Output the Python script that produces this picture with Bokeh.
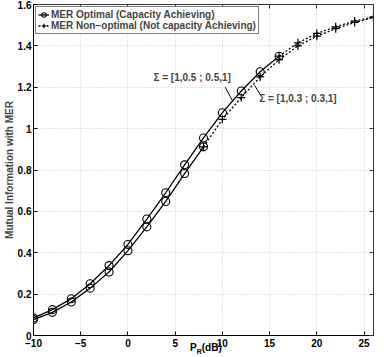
from bokeh.plotting import figure
from bokeh.layouts import column
from bokeh.models import (Range1d, FixedTicker, LinearAxis, Legend, LegendItem,
                          Label, Div, CustomJSTickFormatter)
from bokeh.embed import file_html
from bokeh.resources import INLINE

# ---------------- data ----------------
x_opt_a = [-10, -8, -6, -4, -2, 0, 2, 4, 6, 8, 10, 12, 14, 16]
y_opt_a = [0.085, 0.125, 0.178, 0.250, 0.338, 0.440, 0.563, 0.690, 0.825, 0.955,
           1.077, 1.182, 1.275, 1.350]   # Sigma = [1,0.5;0.5,1], optimal

x_opt_b = [-10, -8, -6, -4, -2, 0, 2, 4, 6, 8]
y_opt_b = [0.077, 0.112, 0.162, 0.229, 0.307, 0.410, 0.525, 0.648, 0.783, 0.912]  # Sigma 0.3 optimal

x_non_a = [16, 18, 20, 22, 24, 26]
y_non_a = [1.350, 1.415, 1.460, 1.492, 1.520, 1.540]   # Sigma 0.5 non-optimal

x_non_b = [8, 10, 12, 14, 16, 18, 20, 22, 24, 26]
y_non_b = [0.912, 1.045, 1.150, 1.250, 1.333, 1.400, 1.447, 1.483, 1.513, 1.537]  # Sigma 0.3 non-optimal

x_ticks = [-10, -5, 0, 5, 10, 15, 20, 25]
x_tick_labels = ["\u221210", "\u22125", "0", "5", "10", "15", "20", "25"]
y_ticks = [0, 0.2, 0.4, 0.6, 0.8, 1, 1.2, 1.4, 1.6]
y_tick_labels = ["0", "0.2", "0.4", "0.6", "0.8", "1", "1.2", "1.4", "1.6"]

legend_labels = ["MER Optimal (Capacity Achieving)",
                 "MER Non\u2212optimal (Not capacity Achieving)"]
sigma_texts = ["\u03a3 = [1,0.5 ; 0.5,1]", "\u03a3 = [1,0.3 ; 0.3,1]"]
x_label_main, x_label_sub, x_label_tail = "P", "R", "(dB)"
y_label = "Mutual Information with MER"

# annotation anchor points (data coordinates)
sig1_pos = (2.7, 1.245)
sig2_pos = (13.9, 1.148)
ptr1 = (10.3, 1.200, 11.1, 1.132)
ptr2 = (13.4, 1.210, 14.0, 1.165)

FONT = "Liberation Sans"

p = figure(width=378, height=349, output_backend="svg", toolbar_location=None,
           x_range=Range1d(-10, 26), y_range=Range1d(0, 1.6),
           min_border_top=4, min_border_right=5, min_border_bottom=0,
           min_border_left=10)
p.background_fill_color = "white"
p.border_fill_color = "white"
p.outline_line_color = "#333333"

for ax in (p.xaxis[0], p.yaxis[0]):
    ax.major_tick_in = 4
    ax.major_tick_out = 0
    ax.minor_tick_line_color = None
    ax.axis_line_color = "black"
    ax.major_tick_line_color = "black"
    ax.major_label_text_font = FONT
    ax.major_label_text_font_style = "bold"
    ax.major_label_text_font_size = "10px"
    ax.major_label_text_color = "black"

p.xaxis[0].ticker = FixedTicker(ticks=x_ticks)
p.xaxis[0].major_label_overrides = dict(zip(x_ticks, x_tick_labels))
p.xaxis[0].major_label_standoff = 3
p.yaxis[0].ticker = FixedTicker(ticks=y_ticks)
p.yaxis[0].major_label_overrides = dict(zip(y_ticks, y_tick_labels))
p.yaxis[0].major_label_standoff = 2
p.yaxis[0].axis_label = y_label
p.yaxis[0].axis_label_text_font = FONT
p.yaxis[0].axis_label_text_font_style = "bold"
p.yaxis[0].axis_label_text_font_size = "10px"
p.yaxis[0].axis_label_standoff = 0

# mirror axes (box with inward ticks, no labels)
for loc, tk in (("right", y_ticks), ("above", x_ticks)):
    a = LinearAxis(ticker=FixedTicker(ticks=tk),
                   formatter=CustomJSTickFormatter(code="return ''"))
    a.major_tick_in = 4
    a.major_tick_out = 0
    a.minor_tick_line_color = None
    a.major_label_standoff = 0
    a.axis_line_color = "#333333"
    a.major_tick_line_color = "#333333"
    p.add_layout(a, loc)

p.xgrid.grid_line_color = "#c8c8c8"
p.xgrid.grid_line_dash = "1 2"
p.ygrid.grid_line_color = "#c8c8c8"
p.ygrid.grid_line_dash = "1 2"

# curves
la = p.line(x_opt_a, y_opt_a, line_color="black", line_width=1.3)
ca = p.scatter(x_opt_a, y_opt_a, marker="circle", size=8, fill_color=None,
               line_color="black", line_width=1.1)
lb = p.line(x_opt_b, y_opt_b, line_color="black", line_width=1.3)
cb = p.scatter(x_opt_b, y_opt_b, marker="circle", size=8, fill_color=None,
               line_color="black", line_width=1.1)
nla = p.line(x_non_a, y_non_a, line_color="black", line_width=1.3, line_dash="2 2")
npa = p.scatter(x_non_a, y_non_a, marker="cross", size=8, line_color="black",
                line_width=1.2)
nlb = p.line(x_non_b, y_non_b, line_color="black", line_width=1.3, line_dash="2 2")
npb = p.scatter(x_non_b, y_non_b, marker="cross", size=8, line_color="black",
                line_width=1.2)

# pointer lines
p.segment(x0=[ptr1[0], ptr2[0]], y0=[ptr1[1], ptr2[1]],
          x1=[ptr1[2], ptr2[2]], y1=[ptr1[3], ptr2[3]],
          line_color="black", line_width=1)

for (tx, ty), txt in zip((sig1_pos, sig2_pos), sigma_texts):
    p.add_layout(Label(x=tx, y=ty, text=txt, text_font=FONT,
                       text_font_style="bold", text_font_size="10px",
                       text_baseline="middle", text_align="left"))

legend = Legend(items=[LegendItem(label=legend_labels[0], renderers=[la, ca]),
                       LegendItem(label=legend_labels[1], renderers=[nla, npa])],
                location="top_left")
legend.margin = 2
legend.padding = 2
legend.spacing = 0
legend.label_height = 11
legend.glyph_height = 11
legend.glyph_width = 11
legend.label_standoff = 2
legend.label_text_font = FONT
legend.label_text_font_style = "bold"
legend.label_text_font_size = "10px"
legend.border_line_color = "black"
legend.border_line_width = 1
legend.background_fill_alpha = 1
p.add_layout(legend)

# x-axis label P_R(dB) as an HTML overlay below the frame
xlab = Div(text=('<div style="position:relative;left:190px;top:6px;'
                 'font-family:\'Liberation Sans\';font-weight:bold;'
                 'font-size:10px;line-height:12px;white-space:nowrap;color:black">'
                 + x_label_main + '<sub style="font-size:7px">' + x_label_sub
                 + '</sub>' + x_label_tail + '</div>'),
           width=378, height=16, margin=(-16, 0, 0, 0))

layout = column(p, xlab, spacing=0)
open("out.html", "w").write(file_html(layout, INLINE))
